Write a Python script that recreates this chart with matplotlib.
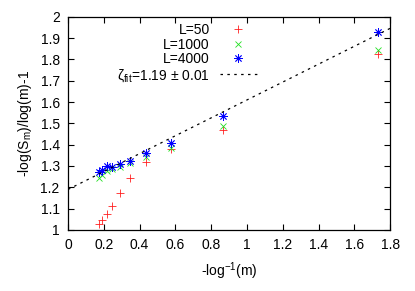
import numpy as np
from matplotlib import pyplot as plt

plt.rcParams["font.family"] = ["Liberation Sans", "DejaVu Sans"]
plt.rcParams["mathtext.fontset"] = "custom"
plt.rcParams["mathtext.rm"] = "Liberation Sans"
plt.rcParams["mathtext.it"] = "Liberation Sans:italic"
plt.rcParams["mathtext.sf"] = "Liberation Sans"

# -1/log(m) positions, shared by every L
inv_log_m = [1.73, 0.865, 0.577, 0.433, 0.346, 0.288, 0.247, 0.216, 0.192, 0.173]

y_L50 = [1.826, 1.470, 1.380, 1.318, 1.245, 1.172, 1.114, 1.075, 1.047, 1.027]
y_L1000 = [1.845, 1.488, 1.384, 1.344, 1.313, 1.297, 1.285, 1.278, 1.260, 1.243]
y_L4000 = [1.930, 1.537, 1.410, 1.360, 1.325, 1.310, 1.295, 1.300, 1.280, 1.270]

fit_a = 1.19
fit_b = 0.42
fit_x = [0.0, 1.8]

fig = plt.figure(figsize=(4.15, 2.91), dpi=100)
ax = fig.add_axes([0.164, 0.21, 0.776, 0.732])

ax.plot(inv_log_m, y_L50, ls="none", marker="+", ms=6, mew=0.6,
        color="#ff2020", label="L=50")
ax.plot(inv_log_m, y_L1000, ls="none", marker="x", ms=5, mew=0.6,
        color="#20e020", label="L=1000")
ax.plot(inv_log_m, y_L4000, ls="none", marker=(8, 2, 0), ms=6, mew=0.6,
        color="#0000ff", label="L=4000")
fx = np.array(fit_x)
ax.plot(fx, fit_a + fit_b * fx, color="black", lw=0.9, ls=(0, (2, 3.5)),
        label="ζ$_{\\mathrm{fit}}$=1.19 ± 0.01")

ax.set_xlim(0, 1.8)
ax.set_ylim(1, 2)
ax.set_xticks(np.arange(0, 1.81, 0.2))
ax.set_xticklabels(["0", "0.2", "0.4", "0.6", "0.8", "1", "1.2", "1.4", "1.6", "1.8"])
ax.set_yticks(np.arange(1, 2.01, 0.1))
ax.set_yticklabels(["1", "1.1", "1.2", "1.3", "1.4", "1.5", "1.6", "1.7", "1.8", "1.9", "2"])
ax.tick_params(direction="in", top=True, right=True, length=4, width=0.8,
               labelsize=10, pad=6)
for s in ax.spines.values():
    s.set_linewidth(0.9)

ax.set_xlabel(r"-log$^{\mathrm{-1}}$(m)", fontsize=10, labelpad=6)
ax.set_ylabel(r"-log(S$_{\mathrm{m}}$)/log(m)-1", fontsize=10, labelpad=5)

leg = ax.legend(loc="upper right", bbox_to_anchor=(0.587, 0.972), frameon=False,
                markerfirst=False, fontsize=10, handlelength=2.7,
                handletextpad=0.7, labelspacing=0.05, borderaxespad=0.0,
                borderpad=0.0)

fig.savefig("out.png", dpi=100)
plt.close(fig)
